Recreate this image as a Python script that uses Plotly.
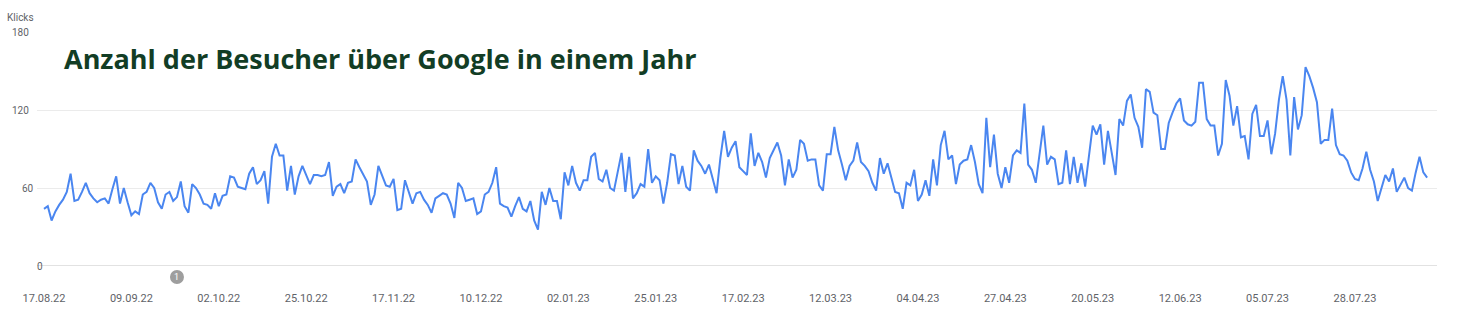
import pandas as pd
import plotly.graph_objects as go

start_date = "2022-08-17"
clicks = [
    44, 46, 35, 42, 47, 51, 57, 71, 50, 51, 57, 64, 56, 52, 49, 51, 52, 48, 59, 69,
    48, 60, 49, 39, 42, 40, 55, 57, 64, 60,
    49, 44, 55, 57, 50, 53, 65, 46, 41, 63, 60, 55, 48, 47, 44, 56, 46, 54, 55, 69,
    68, 61, 60, 59, 71, 76, 63, 66, 73, 48,
    84, 94, 85, 85, 58, 77, 55, 69, 77, 70, 63, 70, 70, 69, 70, 80, 54, 61, 63, 56,
    64, 65, 82, 76, 71, 65, 47, 55, 77, 70, 62, 61,
    67, 43, 44, 66, 56, 48, 56, 57, 51, 47, 41, 52, 54, 56, 55, 48, 37, 64, 60, 50,
    51, 52, 40, 42, 55, 57, 64, 76, 48, 46, 45,
    38, 46, 53, 44, 42, 50, 35, 28, 57, 47, 60, 50, 50, 36, 72, 62, 77, 64, 58, 66,
    66, 84, 87, 67, 65, 74, 60, 58, 73, 87, 57,
    84, 52, 56, 63, 61, 90, 64, 69, 66, 48, 64, 86, 85, 63, 77, 61, 58, 89, 81, 77,
    71, 78, 68, 56, 83, 104, 84, 91, 96, 76, 73,
    70, 102, 77, 87, 80, 68, 83, 89, 95, 85, 62, 82, 68, 74, 97, 94, 81, 82, 82, 62,
    58, 86, 86, 107, 89, 78, 66, 77, 81, 95, 80,
    77, 73, 64, 58, 83, 71, 79, 69, 57, 56, 44, 64, 62, 74, 50, 55, 66, 54, 82, 62,
    93, 104, 82, 85, 63, 78, 81, 82, 93, 80, 63,
    56, 114, 76, 101, 71, 60, 76, 64, 85, 89, 87, 125, 78, 74, 64, 88, 108, 78, 84, 82,
    63, 64, 89, 63, 84, 64, 79, 61, 86, 108, 101,
    109, 78, 104, 87, 70, 113, 108, 127, 132, 114, 107, 91, 136, 134, 118, 116, 90, 90, 110, 118,
    125, 129, 112, 109, 108, 111, 141, 141, 113, 108, 108,
    85, 94, 143, 131, 108, 123, 99, 100, 82, 117, 124, 100, 100, 112, 86, 102, 128, 146, 128, 85,
    130, 105, 116, 153, 146, 137, 126, 94, 97, 97, 121,
    93, 86, 85, 81, 72, 67, 66, 75, 88, 74, 65, 50, 60, 70, 65, 75, 57, 63, 68, 60,
    58, 72, 84, 72, 68,
]
dates = pd.date_range(start_date, periods=len(clicks), freq="D")

x_tick_labels = ["17.08.22", "09.09.22", "02.10.22", "25.10.22", "17.11.22", "10.12.22",
                 "02.01.23", "25.01.23", "17.02.23", "12.03.23", "04.04.23", "27.04.23",
                 "20.05.23", "12.06.23", "05.07.23", "28.07.23"]
x_tick_dates = [pd.to_datetime(s, format="%d.%m.%y") for s in x_tick_labels]

y_ticks = [0, 60, 120, 180]
y_label = "Klicks"
title = "Anzahl der Besucher über Google in einem Jahr"

event_dates = ["2022-09-21"]
event_labels = ["1"]

W, H = 1459, 320
L, R, T, B = 37, 22, 32, 54
pw = W - L - R
ph = H - T - B

fig = go.Figure()
fig.add_trace(go.Scatter(
    x=dates, y=clicks, mode="lines",
    line=dict(color="#4a86f0", width=2), hoverinfo="skip", showlegend=False,
))

x0 = pd.Timestamp(start_date) - pd.Timedelta(days=1.84)
x1 = pd.Timestamp(start_date) + pd.Timedelta(days=366.6)

fig.update_layout(
    width=W, height=H, margin=dict(l=L, r=R, t=T, b=B),
    paper_bgcolor="white", plot_bgcolor="white",
    font=dict(family="Roboto", color="#5f6368", size=11),
    xaxis=dict(range=[x0, x1], tickvals=x_tick_dates, ticktext=x_tick_labels,
               showgrid=False, zeroline=False, showline=False, ticks="",
               ticklabelstandoff=24, tickfont=dict(size=11, color="#5f6368")),
    yaxis=dict(range=[0, 180], tickvals=y_ticks, showticklabels=False,
               showgrid=True, gridcolor="#ebebeb", gridwidth=1,
               zeroline=False, showline=False, fixedrange=True),
    hovermode=False,
)
# baseline
fig.add_shape(type="line", xref="paper", yref="y", x0=0, x1=1, y0=0, y1=0,
              line=dict(color="#c4c4c4", width=1))

# event markers below the axis
for d, lab in zip(event_dates, event_labels):
    fig.add_shape(type="circle", xref="x", yref="paper",
                  xsizemode="pixel", ysizemode="pixel",
                  xanchor=d, yanchor=-(277 - (H - B)) / ph,
                  x0=-7, x1=7, y0=-7, y1=7,
                  fillcolor="#9e9e9e", line=dict(color="#9e9e9e", width=0))
    fig.add_annotation(xref="x", yref="paper", x=d, y=-(277 - (H - B)) / ph,
                       text=lab, showarrow=False, xanchor="center", yanchor="middle",
                       font=dict(size=9, color="white"))

# y tick labels
y_label_x = {0: 40, 60: 28, 120: 20, 180: 20}
for v in y_ticks:
    fig.add_annotation(xref="paper", yref="y", x=(y_label_x[v] - L) / pw, y=v,
                       text=str(v), showarrow=False, xanchor="center", yanchor="middle",
                       font=dict(size=10, color="#5f6368"))
fig.add_annotation(xref="paper", yref="paper", x=(20 - L) / pw, y=1 + (T - 17) / ph,
                   text=y_label, showarrow=False, xanchor="center", yanchor="middle",
                   font=dict(size=10, color="#5f6368"))
fig.add_annotation(xref="paper", yref="paper", x=(62 - L) / pw, y=1 - (58 - T) / ph,
                   text="<b>" + title + "</b>", showarrow=False, xanchor="left", yanchor="middle",
                   font=dict(size=27, color="#123d25", family="Open Sans"))

fig.write_html("out.html")
